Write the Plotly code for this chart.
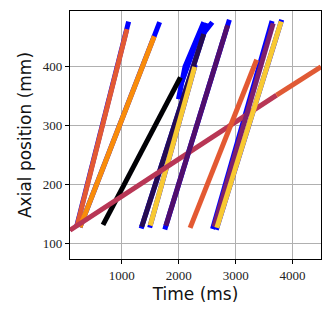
import plotly.graph_objects as go

# blue tracks (drawn underneath)
blue_tracks = [
    ([205, 1120], [127.9, 477]),
    ([265, 1665], [127, 476]),
    ([1340, 2500], [125, 474]),
    ([1995, 2110, 2440], [345, 400, 476]),
    ([2060, 2200, 2300, 2590], [375, 410, 440, 476]),
    ([1490, 2290], [126.5, 403.5]),
    ([1755, 2890], [123.3, 480.2]),
    ([2595, 3640], [124, 478]),
    ([2660, 3810], [122.9, 480]),
]

# coloured tracks: (x, y, colour)
tracks = [
    ([215, 1090], [130, 464], "#e35933"),
    ([265, 1570], [127, 452], "#f98c0a"),
    ([670, 2030], [131, 382], "#000004"),
    ([1350, 2440], [128, 456], "#260c51"),
    ([1500, 2280], [130, 400], "#f8c932"),
    ([90, 3720], [122, 352], "#b83655"),
    ([3720, 4500], [352, 400], "#e05a35"),
    ([1775, 2860], [129.6, 470.8], "#510e6c"),
    ([2200, 3370], [126, 412], "#e35932"),
    ([2620, 3660], [128, 474], "#7d1f6d"),
    ([2670, 3800], [126, 477], "#f8c932"),
]

fig = go.Figure()
for bx, by in blue_tracks:
    fig.add_trace(go.Scatter(x=bx, y=by, mode="lines",
                             line=dict(color="#0000ff", width=5)))
for tx, ty, col in tracks:
    fig.add_trace(go.Scatter(x=tx, y=ty, mode="lines",
                             line=dict(color=col, width=5)))

# page body has an 8px margin, so the figure is sized to fit the window
fig.update_layout(
    width=324, height=313,
    margin=dict(l=62, r=11, t=3, b=62),
    plot_bgcolor="white", paper_bgcolor="white",
    showlegend=False,
)
fig.update_xaxes(
    range=[90, 4500], tickvals=[1000, 2000, 3000, 4000],
    showgrid=True, gridcolor="#b0b0b0", gridwidth=1,
    showline=True, linecolor="black", linewidth=1.2, mirror=True,
    ticks="outside", ticklen=4, tickcolor="black",
    tickfont=dict(family="Liberation Serif", size=13, color="#222"),
    title=dict(text="Time (ms)", font=dict(family="DejaVu Sans", size=17, color="#111"), standoff=6),
    zeroline=False, automargin=False,
)
fig.update_yaxes(
    range=[73, 495], tickvals=[100, 200, 300, 400],
    showgrid=True, gridcolor="#b0b0b0", gridwidth=1,
    showline=True, linecolor="black", linewidth=1.2, mirror=True,
    ticks="outside", ticklen=4, tickcolor="black",
    tickfont=dict(family="Liberation Serif", size=13, color="#222"),
    title=dict(text="Axial position (mm)", font=dict(family="DejaVu Sans", size=17, color="#111"), standoff=6),
    zeroline=False, automargin=False,
)

fig.write_html("out.html")
